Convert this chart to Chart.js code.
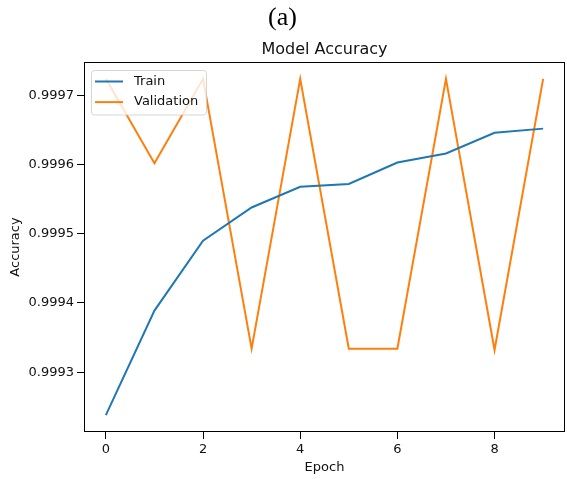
<!DOCTYPE html>
<html>
<head>
<meta charset="utf-8">
<script src="https://cdn.jsdelivr.net/npm/chart.js@4.4.1/dist/chart.umd.min.js"></script>
<style>
html,body{margin:0;padding:0;background:#fff;}
#wrap{width:567px;height:479px;position:relative;}
</style>
</head>
<body>
<div id="wrap"><canvas id="c" width="567" height="479"></canvas></div>
<script>
const epochs = [0,1,2,3,4,5,6,7,8,9];
const trainAcc = [0.999238,0.999389,0.999490,0.999538,0.999568,0.999572,0.999603,0.999616,0.999646,0.999652];
const valAcc = [0.999724,0.999602,0.999724,0.999334,0.999724,0.999334,0.999334,0.999724,0.999332,0.999724];
const xTicks = [0,2,4,6,8];
const yTicks = [0.9993,0.9994,0.9995,0.9996,0.9997];
const seriesNames = ['Train','Validation'];
const seriesColors = ['#1f77b4','#ff7f0e'];
const axesTitle = 'Model Accuracy';

const tickFont = {family:'"DejaVu Sans"', size:13};
const textColor = '#111';

const framePlugin = {
  id:'frame',
  afterDatasetsDraw(chart){
    const {ctx, chartArea:a} = chart;
    ctx.save();
    ctx.strokeStyle='#000';
    ctx.lineWidth=1;
    const l=Math.round(a.left)+0.5, t=Math.round(a.top)+0.5, r=Math.round(a.right)-0.5, b=Math.round(a.bottom)-0.5;
    ctx.strokeRect(l, t, r-l, b-t);
    ctx.font='16px "DejaVu Sans"';
    ctx.fillStyle=textColor;
    ctx.textAlign='center';
    ctx.textBaseline='middle';
    ctx.fillText(axesTitle,(a.left+a.right)/2,a.top-12);
    ctx.restore();
  },
  afterDraw(chart){
    const {ctx, chartArea:a} = chart;
    const x0=a.left+7.5, y0=a.top+8.5, w=115, h=44.5, r=3;
    ctx.save();
    ctx.beginPath();
    ctx.moveTo(x0+r,y0);
    ctx.arcTo(x0+w,y0,x0+w,y0+h,r);
    ctx.arcTo(x0+w,y0+h,x0,y0+h,r);
    ctx.arcTo(x0,y0+h,x0,y0,r);
    ctx.arcTo(x0,y0,x0+w,y0,r);
    ctx.closePath();
    ctx.fillStyle='rgba(255,255,255,0.8)';
    ctx.fill();
    ctx.strokeStyle='rgba(204,204,204,0.8)';
    ctx.lineWidth=1;
    ctx.stroke();
    ctx.font='13px "DejaVu Sans"';
    ctx.textBaseline='middle';
    ctx.fillStyle=textColor;
    seriesNames.forEach((n,i)=>{
      const yy=y0+11+i*20.6;
      ctx.strokeStyle=seriesColors[i];
      ctx.lineWidth=2;
      ctx.beginPath();
      ctx.moveTo(x0+3.5,yy);
      ctx.lineTo(x0+31.5,yy);
      ctx.stroke();
      ctx.fillText(n,x0+42.5,yy);
    });
    ctx.restore();
  }
};

new Chart(document.getElementById('c'),{
  type:'line',
  data:{
    datasets:[
      {label:seriesNames[0], data:epochs.map((e,i)=>({x:e,y:trainAcc[i]})), borderColor:seriesColors[0], backgroundColor:seriesColors[0], borderWidth:2, pointRadius:0, tension:0},
      {label:seriesNames[1], data:epochs.map((e,i)=>({x:e,y:valAcc[i]})), borderColor:seriesColors[1], backgroundColor:seriesColors[1], borderWidth:2, pointRadius:0, tension:0}
    ]
  },
  options:{
    responsive:false,
    animation:false,
    devicePixelRatio:1,
    layout:{padding:{top:0,right:2,bottom:0,left:0}},
    plugins:{
      legend:{display:false},
      tooltip:{enabled:false},
      title:{display:true, text:'(a)', color:'#000', font:{family:'"Liberation Serif"', size:26, weight:'normal', lineHeight:1.2}, padding:{top:3,bottom:27.8}}
    },
    scales:{
      x:{
        type:'linear', min:-0.45, max:9.45,
        afterBuildTicks(s){ s.ticks = xTicks.map(v=>({value:v})); },
        afterFit(s){ s.height = 47; },
        grid:{display:true, drawOnChartArea:false, drawTicks:true, tickLength:7, color:'#000', tickColor:'#000'},
        border:{display:false},
        ticks:{color:textColor, font:tickFont, padding:3, maxRotation:0, callback:v=>String(v)},
        title:{display:true, text:'Epoch', color:textColor, font:tickFont, padding:{top:0,bottom:4}}
      },
      y:{
        type:'linear', min:0.9992135, max:0.9997483,
        afterBuildTicks(s){ s.ticks = yTicks.map(v=>({value:v})); },
        afterFit(s){ s.width = 84; },
        grid:{display:true, drawOnChartArea:false, drawTicks:true, tickLength:7, color:'#000', tickColor:'#000'},
        border:{display:false},
        ticks:{color:textColor, font:tickFont, padding:3, callback:v=>Number(v).toFixed(4)},
        title:{display:true, text:'Accuracy', color:textColor, font:tickFont, padding:{top:8,bottom:0}}
      }
    }
  },
  plugins:[framePlugin]
});
</script>
</body>
</html>
